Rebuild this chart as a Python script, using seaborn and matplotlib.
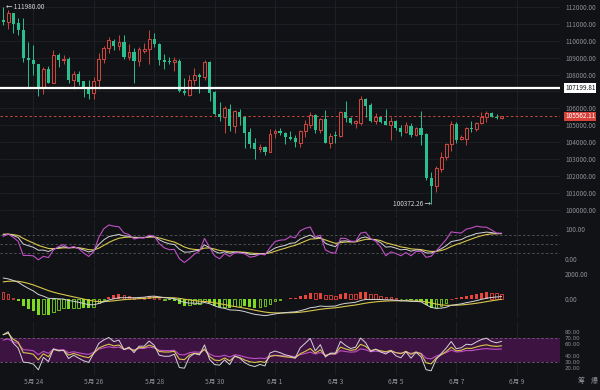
import matplotlib

matplotlib.use("Agg")
import matplotlib.pyplot as plt
import numpy as np
import seaborn as sns

# 4h candles from 5月23 00:00 to 6月8 12:00 (index 0..99)
open_px = [
    111231, 111132, 111625, 111034, 110639, 108963, 108864, 108628, 107287, 108332,
    107523, 109160, 108864, 108904, 107681, 108036, 107622, 107188, 106893, 107681,
    108904, 109555, 110008, 109693, 109929, 109062, 109358, 108805, 109417, 109496,
    110087, 109791, 108864, 108825, 108746, 108825, 107050, 106793, 107681, 107977,
    107839, 108765, 106991, 105669, 105512, 105965, 104959, 105807, 105512, 104624,
    103934, 103579, 103697, 103441, 104526, 104683, 104526, 104328, 104230, 103973,
    104644, 105019, 105610, 104723, 105354, 103973, 104427, 104368, 105807, 105413,
    105157, 105157, 106537, 106202, 105275, 105472, 105275, 105019, 105275, 104861,
    104624, 104979, 104427, 104821, 104486, 101863, 101410, 102396, 103106, 103894,
    105078, 104171, 104171, 104821, 104762, 105117, 105472, 105709, 105512, 105433,
]
high_px = [
    111980, 111850, 111665, 111329, 111329, 109949, 109752, 108650, 108470, 108509,
    109456, 109259, 109160, 109022, 108214, 108233, 107640, 107681, 107839, 109259,
    109693, 110205, 110087, 110343, 110343, 109811, 109555, 109653, 109851, 110639,
    110442, 109890, 109200, 109022, 109062, 108904, 107780, 107977, 108371, 108075,
    108864, 108800, 107000, 106399, 106143, 106261, 105906, 105946, 105551, 104821,
    104230, 103894, 103776, 104762, 104762, 104821, 104624, 104683, 104427, 104723,
    105314, 105807, 105669, 105413, 105906, 104526, 104683, 105867, 106458, 105512,
    105314, 106734, 106596, 106300, 105748, 105512, 105946, 105512, 105314, 105019,
    105216, 105117, 104920, 105867, 104526, 102259, 102593, 103441, 103934, 105275,
    105216, 104427, 104920, 105275, 105216, 105807, 105867, 105807, 105669, 105571,
]
low_px = [
    110935, 110679, 110442, 110343, 108766, 107287, 107977, 106735, 106833, 107484,
    107484, 108470, 108628, 107484, 107129, 107385, 106656, 106538, 106577, 107129,
    108667, 109298, 109456, 109456, 108904, 108864, 107484, 108509, 109259, 108628,
    109653, 108569, 108332, 108628, 108214, 106991, 106794, 106734, 107385, 106892,
    107681, 106450, 105610, 105275, 104565, 104683, 104565, 105019, 103638, 103638,
    102987, 103441, 103244, 103400, 104230, 104427, 103875, 104131, 103697, 103737,
    104289, 104821, 104526, 104565, 103934, 103638, 103973, 104328, 105216, 105078,
    104821, 104999, 105472, 105216, 105078, 105157, 105000, 104131, 104723, 104368,
    104565, 104328, 104368, 103835, 101765, 100372, 101075, 102259, 102948, 103500,
    103934, 104131, 103835, 104624, 104683, 105078, 105216, 105472, 105354, 105394,
]
close_px = [
    111112, 111625, 110994, 110639, 108963, 108864, 108628, 107247, 108332, 107523,
    109160, 108864, 108924, 107681, 108036, 107583, 107129, 106853, 107642, 108924,
    109555, 110048, 109693, 109929, 109062, 109358, 108805, 109496, 109496, 110087,
    109791, 108864, 108746, 108746, 108864, 107050, 106893, 107681, 107977, 107839,
    108765, 106931, 105669, 105512, 106005, 104959, 105867, 105472, 104565, 103894,
    103579, 103737, 103441, 104486, 104683, 104526, 104328, 104210, 104033, 104683,
    105078, 105610, 104723, 105354, 103973, 104368, 104368, 105807, 105413, 105117,
    105255, 106537, 106143, 105255, 105512, 105216, 105019, 105275, 104821, 104624,
    105019, 104427, 104821, 104427, 101863, 101410, 102455, 103145, 103894, 105078,
    104131, 104289, 104821, 104762, 105157, 105512, 105709, 105512, 105433, 105562.11,
]

tick_pos = [6, 18, 30, 42, 54, 66, 78, 90, 102]
tick_labels = ["5月 24", "5月 26", "5月 28", "5月 30", "6月 1", "6月 3", "6月 5", "6月 7", "6月 9"]

ref_line = 107199.81
last_price = 105562.11
high_mark = 111980.00
low_mark = 100372.26

# indicator states just before the first candle
kdj_seed = (84.0, 84.0)
kdj_prior_range = (108800, 111980)
macd_seed = (110900.0, 109100.0, 1300.0)   # ema12, ema26, dea
rsi_seed = {6: (360.0, 450.0), 12: (312.0, 400.0), 24: (238.0, 350.0)}  # avg up, avg abs

BG = "#111215"
GRID = "#1f2126"
TXT = "#8b8e95"
GREEN = "#2bbf8e"
RED = "#cc4640"
HIST_RED = "#e8453c"
HIST_GREEN = "#7ddc1f"
WHITE_L = "#d4d4d8"
YELLOW_L = "#d8c64a"
MAGENTA_L = "#c04fc6"

o = np.array(open_px, float)
h = np.array(high_px, float)
lo = np.array(low_px, float)
c = np.array(close_px, float)
idx = np.arange(len(c))
n = len(c)

# KDJ(9,3,3)
hh = np.concatenate([[kdj_prior_range[1]] * 8, h])
ll = np.concatenate([[kdj_prior_range[0]] * 8, lo])
k_line, d_line = np.empty(n), np.empty(n)
kp, dp = kdj_seed
for i in range(n):
    win_h = hh[i:i + 9].max()
    win_l = ll[i:i + 9].min()
    rsv = (c[i] - win_l) / (win_h - win_l) * 100
    kp = (rsv + 2 * kp) / 3
    dp = (kp + 2 * dp) / 3
    k_line[i], d_line[i] = kp, dp
j_line = 3 * k_line - 2 * d_line

# MACD(12,26,9)
e12, e26, dea = macd_seed
dif_line, dea_line = np.empty(n), np.empty(n)
for i in range(n):
    e12 += 2 / 13 * (c[i] - e12)
    e26 += 2 / 27 * (c[i] - e26)
    dif = e12 - e26
    dea += 2 / 10 * (dif - dea)
    dif_line[i], dea_line[i] = dif, dea
hist = 2 * (dif_line - dea_line)

# RSI 6/12/24
rsi_lines = {}
prev = np.concatenate([[o[0]], c[:-1]])
for period, (up0, ab0) in rsi_seed.items():
    up, ab = up0, ab0
    vals = np.empty(n)
    for i in range(n):
        ch = c[i] - prev[i]
        up = (max(ch, 0) + (period - 1) * up) / period
        ab = (abs(ch) + (period - 1) * ab) / period
        vals[i] = up / ab * 100
    rsi_lines[period] = vals

sns.set_theme(style="dark", rc={"axes.facecolor": BG, "figure.facecolor": BG})
plt.rcParams["font.family"] = ["Noto Sans CJK SC", "DejaVu Sans"]

fig = plt.figure(figsize=(6, 3.9), dpi=100, facecolor=BG)


def panel(top, bottom):
    return fig.add_axes([0, (390 - bottom) / 390, 560 / 600, (bottom - top) / 390])


ax_p = panel(0, 218)
ax_k = panel(220, 264)
ax_m = panel(265, 318)
ax_r = panel(322, 375)
axes = [ax_p, ax_k, ax_m, ax_r]

for ax in axes:
    ax.set_facecolor(BG)
    ax.set_xlim(-0.62, 110.6)
    for s in ax.spines.values():
        s.set_visible(False)
    ax.yaxis.tick_right()
    ax.tick_params(axis="y", length=0, pad=3.6, labelsize=4.6, labelcolor=TXT)
    ax.tick_params(axis="x", length=0)
    ax.set_xticks(tick_pos)
    ax.set_xticklabels([])
    ax.grid(False)
    for t in tick_pos:
        ax.axvline(t, color=GRID, lw=0.7, zorder=0)

# price panel
ax_p.set_ylim(99515, 112414)
price_ticks = list(range(100000, 113000, 1000))
ax_p.set_yticks(price_ticks)
# 107000 sits under the reference-line tag
ax_p.set_yticklabels(["" if v == 107000 else f"{v:.2f}" for v in price_ticks])
for v in price_ticks:
    ax_p.axhline(v, color=GRID, lw=0.6, zorder=0)

up = c >= o
wick_col = np.where(up, RED, GREEN)
ax_p.vlines(idx, lo, h, colors=wick_col, lw=0.7, zorder=2)
body_b = np.minimum(o, c)
body_h = np.maximum(np.abs(c - o), 25)
ax_p.bar(idx[~up], body_h[~up], bottom=body_b[~up], width=0.62, color=GREEN, lw=0, zorder=3)
ax_p.bar(idx[up], body_h[up], bottom=body_b[up], width=0.56, facecolor=BG, edgecolor=RED,
         lw=0.75, zorder=3)

ax_p.axhline(ref_line, color="white", lw=1.6, zorder=4)
ax_p.axhline(last_price, color=RED, lw=0.7, ls=(0, (2.5, 2.5)), zorder=1)

ax_p.annotate(f"{ref_line:.2f}", xy=(1, ref_line), xycoords=("axes fraction", "data"),
              xytext=(3.6, 0), textcoords="offset points", ha="left", va="center",
              fontsize=4.6, color="#111111",
              bbox=dict(boxstyle="square,pad=0.15", fc="white", ec="none"), annotation_clip=False)
ax_p.annotate(f"{last_price:.2f}", xy=(1, last_price), xycoords=("axes fraction", "data"),
              xytext=(3.6, -0.5), textcoords="offset points", ha="left", va="center",
              fontsize=4.6, color="white",
              bbox=dict(boxstyle="square,pad=0.15", fc="#d9413b", ec="none"), annotation_clip=False)

hi_i = int(np.argmax(h))
lo_i = int(np.argmin(lo))
ax_p.text(hi_i + 0.5, high_mark, f"← {high_mark:.2f}", ha="left", va="center",
          fontsize=4.6, color="#d6d6d6", zorder=5)
ax_p.text(lo_i - 0.1, low_mark, f"{low_mark:.2f} →", ha="right", va="center",
          fontsize=4.6, color="#d6d6d6", zorder=5)

# KDJ panel
ax_k.set_ylim(-16.7, 130)
ax_k.set_yticks([0, 100])
ax_k.set_yticklabels(["0.00", "100.00"])
for v in (20, 50, 80):
    ax_k.axhline(v, color="#55575d", lw=0.6, ls=(0, (3, 2.5)), zorder=1)
sns.lineplot(x=idx, y=d_line, ax=ax_k, color=YELLOW_L, lw=0.8, legend=False)
sns.lineplot(x=idx, y=k_line, ax=ax_k, color=WHITE_L, lw=0.7, legend=False)
sns.lineplot(x=idx, y=j_line, ax=ax_k, color=MAGENTA_L, lw=0.8, legend=False)

# MACD panel
ax_m.set_ylim(-1478, 2711)
ax_m.set_yticks([0, 2000])
ax_m.set_yticklabels(["0.00", "2000.00"])
prev_abs = np.concatenate([[np.inf], np.abs(hist[:-1])])
growing = np.abs(hist) >= prev_abs
for i in range(n):
    col = HIST_RED if hist[i] >= 0 else HIST_GREEN
    if growing[i]:
        ax_m.bar(i, hist[i], width=0.62, color=col, lw=0, zorder=2)
    else:
        ax_m.bar(i, hist[i], width=0.5, facecolor=BG, edgecolor=col, lw=0.6, zorder=2)
sns.lineplot(x=idx, y=dea_line, ax=ax_m, color=YELLOW_L, lw=0.8, legend=False)
sns.lineplot(x=idx, y=dif_line, ax=ax_m, color=WHITE_L, lw=0.7, legend=False)

# RSI panel
ax_r.set_ylim(8.8, 97.2)
ax_r.axhspan(30, 70, color="#3d1342", lw=0, zorder=0)
for v in (30, 70):
    ax_r.axhline(v, color="#7a5a80", lw=0.6, ls=(0, (3, 2.5)), zorder=1)
ax_r.set_yticks([20, 30, 40, 60, 70, 80])
ax_r.set_yticklabels(["20.00", "30.00", "40.00", "60.00", "70.00", "80.00"])
ax_r.tick_params(axis="y", labelsize=3.9)
for lab in ax_r.get_yticklabels():
    lab.set_family("DejaVu Sans")
sns.lineplot(x=idx, y=rsi_lines[24], ax=ax_r, color=MAGENTA_L, lw=0.8, legend=False)
sns.lineplot(x=idx, y=rsi_lines[12], ax=ax_r, color=YELLOW_L, lw=0.8, legend=False)
sns.lineplot(x=idx, y=rsi_lines[6], ax=ax_r, color=WHITE_L, lw=0.7, legend=False)
ax_r.set_xticklabels(tick_labels)
ax_r.tick_params(axis="x", labelsize=4.8, labelcolor=TXT, pad=2.2)

for ax in axes:
    ax.set_xlabel("")
    ax.set_ylabel("")

fig.text(581 / 600, 1 - 381 / 390, "筹", fontsize=5, color=TXT, ha="center", va="center")
fig.text(594 / 600, 1 - 381 / 390, "爆", fontsize=5, color=TXT, ha="center", va="center")

fig.savefig("out.png", dpi=100, facecolor=BG)
